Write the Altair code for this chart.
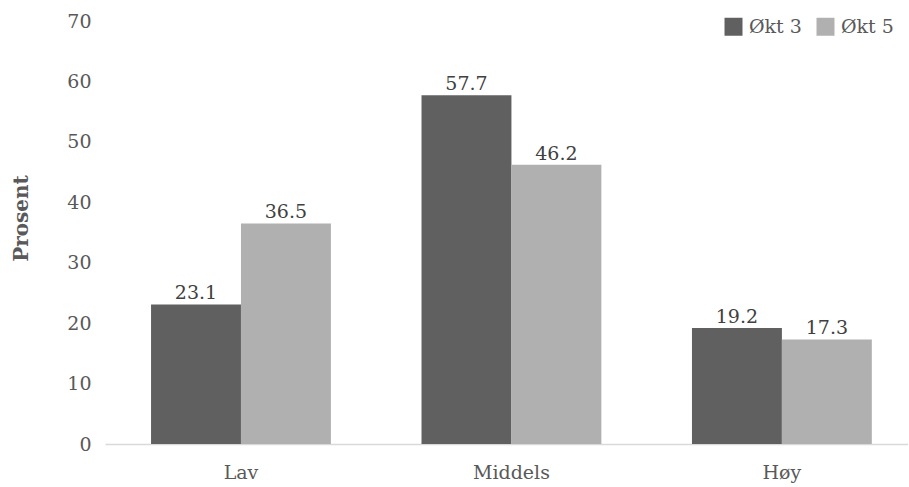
import altair as alt
import pandas as pd

categories = ["Lav", "Middels", "Høy"]
series = ["Økt 3", "Økt 5"]
okt3 = [23.1, 57.7, 19.2]
okt5 = [36.5, 46.2, 17.3]
colors = ["#606060", "#b0b0b0"]
y_ticks = [0, 10, 20, 30, 40, 50, 60, 70]

rows = []
for c, a, b in zip(categories, okt3, okt5):
    rows.append({"kategori": c, "serie": series[0], "verdi": a})
    rows.append({"kategori": c, "serie": series[1], "verdi": b})
df = pd.DataFrame(rows)

FONT = "DejaVu Serif"
TXT = "#595959"
FS = 19

x = alt.X(
    "kategori:N",
    sort=categories,
    scale=alt.Scale(paddingInner=0.335, paddingOuter=0.152, align=0.56),
    axis=alt.Axis(
        title=None, labelAngle=0, ticks=False, domainColor="#d9d9d9",
        domainWidth=1.5, labelPadding=19, labelFontSize=FS, labelColor=TXT,
        labelFont=FONT,
    ),
)
xoff = alt.XOffset("serie:N", sort=series)
y = alt.Y(
    "verdi:Q",
    scale=alt.Scale(domain=[0, 70]),
    axis=alt.Axis(
        values=y_ticks, title="Prosent", grid=False, domain=False, ticks=False,
        labelPadding=14, labelFontSize=FS, labelColor=TXT, labelFont=FONT,
        titleFont=FONT, titleFontSize=20, titleFontWeight="bold", titleColor=TXT,
        titleAngle=-90, titleX=-84, titleY=197, titleAlign="center",
        titleBaseline="middle",
    ),
)
color = alt.Color(
    "serie:N",
    sort=series,
    scale=alt.Scale(domain=series, range=colors),
    legend=alt.Legend(
        title=None, orient="none", legendX=619, legendY=-4, direction="horizontal",
        symbolType="square", symbolSize=324, symbolStrokeWidth=0,
        labelFontSize=FS, labelFont=FONT, labelColor=TXT, labelOffset=6,
        columnPadding=14, padding=0,
    ),
)

bars = alt.Chart(df).mark_bar().encode(x=x, xOffset=xoff, y=y, color=color)
labels = alt.Chart(df).mark_text(
    baseline="alphabetic", dy=-5, fontSize=FS, font=FONT, color="#404040"
).encode(x=x, xOffset=xoff, y=y, text=alt.Text("verdi:Q", format=".1f"))

chart = (
    alt.layer(bars, labels)
    .properties(
        width=803, height=423,
        autosize=alt.AutoSizeParams(type="none"),
        padding={"left": 105, "top": 21, "right": 0, "bottom": 43},
        background="white",
    )
    .configure_view(stroke=None)
)

chart.save("out.html", embed_options={"renderer": "svg", "actions": False})
